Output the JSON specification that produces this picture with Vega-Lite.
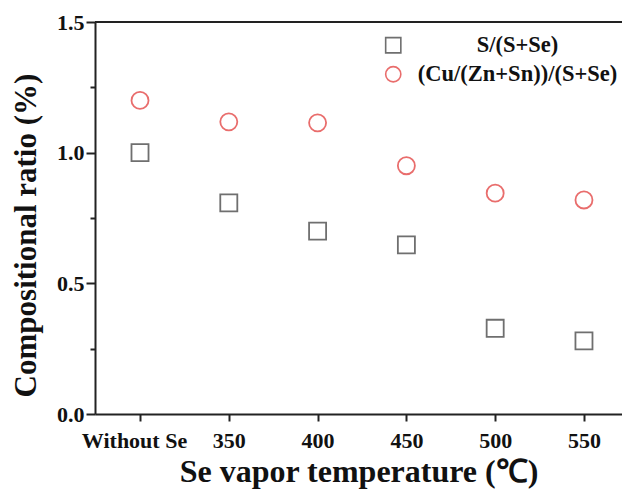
{
  "$schema": "https://vega.github.io/schema/vega-lite/v6.json",
  "width": 527,
  "height": 392,
  "autosize": "none",
  "padding": {"left": 95, "top": 22, "right": 0, "bottom": 76},
  "background": "white",
  "config": {
    "view": {"stroke": null},
    "axis": {
      "labelFont": "Liberation Serif",
      "labelFontWeight": "bold",
      "labelFontSize": 22,
      "labelColor": "#111",
      "titleFont": "Liberation Serif",
      "titleFontWeight": "bold",
      "titleFontSize": 31,
      "titleColor": "#111",
      "domainColor": "#222",
      "domainWidth": 2,
      "tickColor": "#222",
      "tickWidth": 2,
      "grid": false
    },
    "legend": {
      "labelFont": "Liberation Serif",
      "labelFontWeight": "bold",
      "labelFontSize": 22.5,
      "labelColor": "#111",
      "labelLimit": 400
    }
  },
  "data": {
    "values": [
      {"temp": "Without Se", "series": "S/(S+Se)", "value": 1.0},
      {"temp": "350", "series": "S/(S+Se)", "value": 0.808},
      {"temp": "400", "series": "S/(S+Se)", "value": 0.70},
      {"temp": "450", "series": "S/(S+Se)", "value": 0.647},
      {"temp": "500", "series": "S/(S+Se)", "value": 0.328},
      {"temp": "550", "series": "S/(S+Se)", "value": 0.280},
      {"temp": "Without Se", "series": "(Cu/(Zn+Sn))/(S+Se)", "value": 1.20},
      {"temp": "350", "series": "(Cu/(Zn+Sn))/(S+Se)", "value": 1.118},
      {"temp": "400", "series": "(Cu/(Zn+Sn))/(S+Se)", "value": 1.114},
      {"temp": "450", "series": "(Cu/(Zn+Sn))/(S+Se)", "value": 0.950},
      {"temp": "500", "series": "(Cu/(Zn+Sn))/(S+Se)", "value": 0.845},
      {"temp": "550", "series": "(Cu/(Zn+Sn))/(S+Se)", "value": 0.819}
    ]
  },
  "layer": [
    {
      "mark": {"type": "rule", "strokeWidth": 2, "color": "#222"},
      "encoding": {"y": {"datum": 1.5, "type": "quantitative"}}
    },
    {
      "mark": {"type": "point", "filled": false, "strokeWidth": 1.8, "size": 290},
      "encoding": {
        "x": {
          "field": "temp",
          "type": "ordinal",
          "sort": ["Without Se", "350", "400", "450", "500", "550"],
          "scale": {"type": "point", "padding": 0.4676, "align": 0.542},
          "axis": {
            "title": "Se vapor temperature (℃)",
            "titleFontSize": 32,
            "labelAngle": 0,
            "tickSize": 7,
            "labelPadding": 9,
            "labelOffset": {"condition": {"test": "datum.label === 'Without Se'", "value": -6}, "value": 0},
            "titlePadding": 5
          }
        },
        "y": {
          "field": "value",
          "type": "quantitative",
          "scale": {"domain": [0, 1.5], "nice": false},
          "axis": {
            "title": "Compositional ratio (%)",
            "values": [0, 0.25, 0.5, 0.75, 1.0, 1.25, 1.5],
            "labelExpr": "datum.value % 0.5 === 0 ? format(datum.value, '.1f') : ''",
            "tickSize": {"condition": {"test": "datum.value % 0.5 !== 0", "value": 5}, "value": 9},
            "labelPadding": 2,
            "titlePadding": 14,
            "titleY": 213
          }
        },
        "shape": {
          "field": "series",
          "type": "nominal",
          "scale": {"domain": ["S/(S+Se)", "(Cu/(Zn+Sn))/(S+Se)"], "range": ["square", "circle"]},
          "legend": {
            "title": null,
            "orient": "none",
            "legendX": 287,
            "legendY": 12,
            "symbolSize": 230,
            "symbolStrokeWidth": 1.6,
            "rowPadding": 6,
            "labelAlign": "center",
            "labelOffset": 113
          }
        },
        "color": {
          "field": "series",
          "type": "nominal",
          "scale": {"domain": ["S/(S+Se)", "(Cu/(Zn+Sn))/(S+Se)"], "range": ["#333333", "#e0302f"]},
          "legend": {
            "title": null,
            "orient": "none",
            "legendX": 287,
            "legendY": 12,
            "symbolSize": 230,
            "symbolStrokeWidth": 1.6,
            "rowPadding": 6,
            "labelAlign": "center",
            "labelOffset": 113
          }
        }
      }
    }
  ]
}
